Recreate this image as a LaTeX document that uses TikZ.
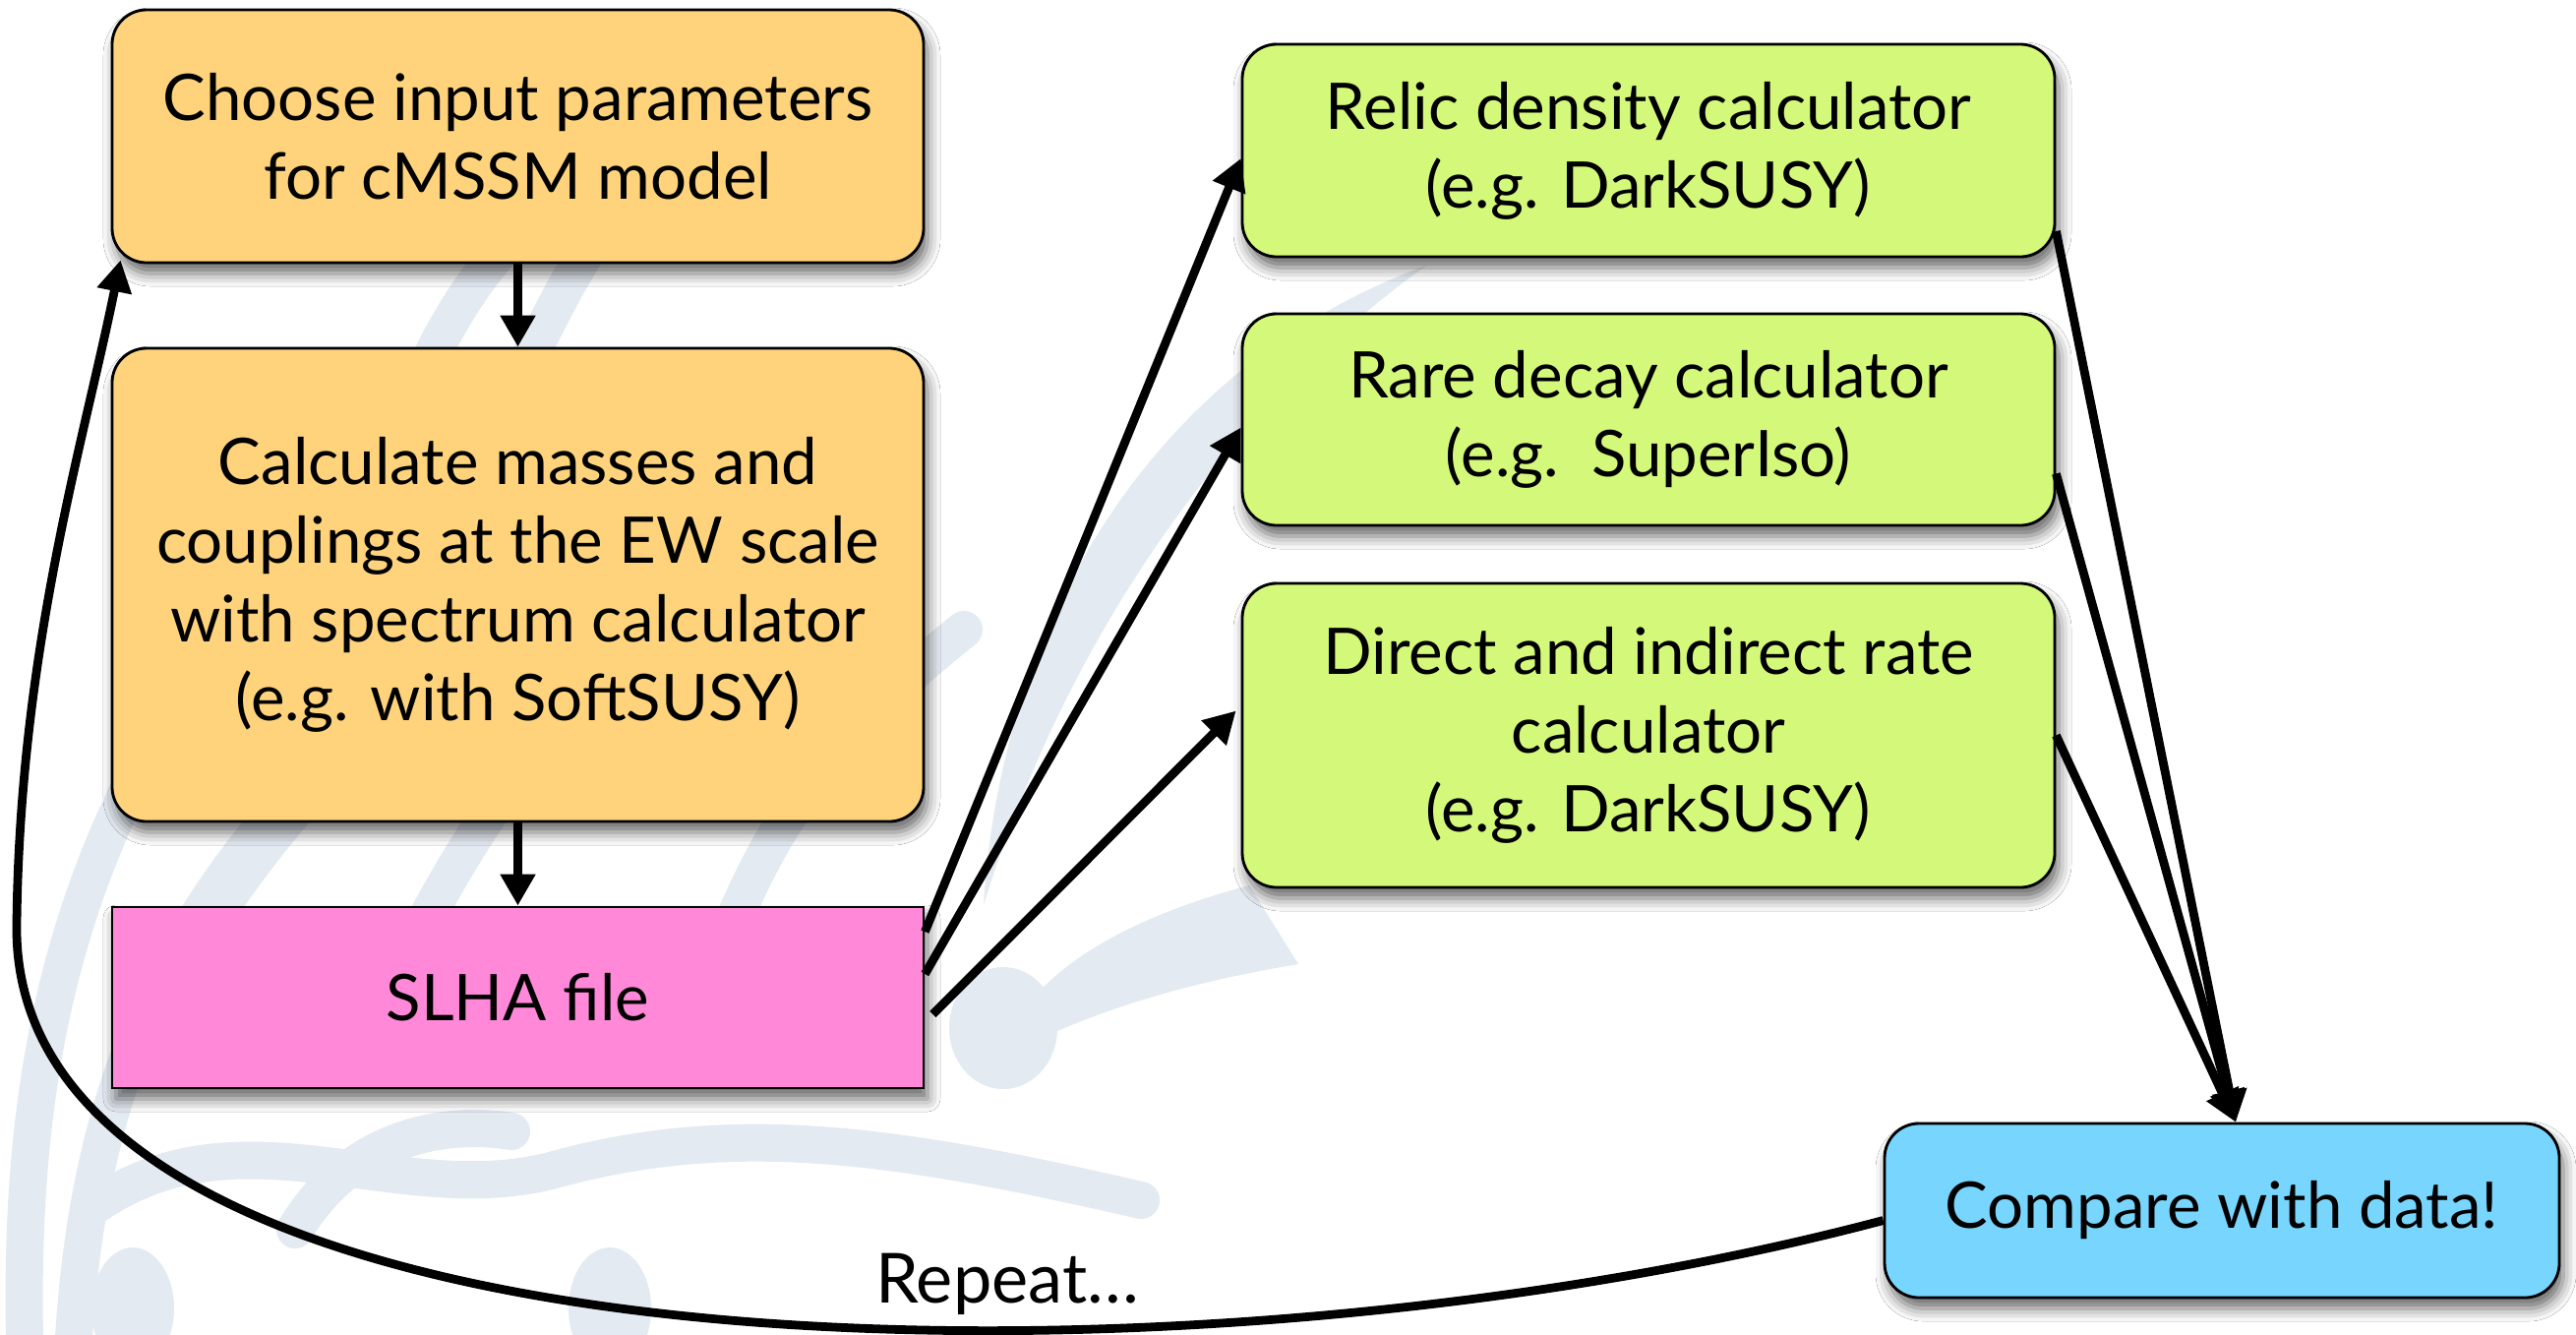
\documentclass[tikz,border=0pt]{standalone}
\usepackage{fontspec}
\setmainfont{Lato}
\usetikzlibrary{arrows.meta,shadows.blur,calc}
\definecolor{boxorange}{RGB}{254,211,124}
\definecolor{boxgreen}{RGB}{212,249,122}
\definecolor{boxpink}{RGB}{255,136,216}
\definecolor{boxblue}{RGB}{120,213,253}
\definecolor{wmark}{RGB}{228,234,242}
\newcommand\cardfont{\fontsize{18.6}{22.8}\selectfont}
\tikzset{
  card/.style={draw=black, line width=0.8pt, align=center, inner sep=0pt,
    font=\cardfont,
    blur shadow={shadow xshift=0.04cm, shadow yshift=-0.11cm,
      shadow blur radius=0.13cm, shadow opacity=60}},
  roundcard/.style={card, rounded corners=0.35cm},
  flow/.style={line width=2.5pt, -{Triangle[length=0.32cm,width=0.34cm]}},
  wm/.style={draw=wmark, line width=0.38cm, line cap=round},
  wmfill/.style={fill=wmark, draw=none}
}
\begin{document}
\begin{tikzpicture}
\useasboundingbox (0,0) rectangle (26.19,-13.56);
\fill[white] (0,0) rectangle (26.19,-13.56);

% light background ornament
\begin{scope}[wm]
  \draw (0.25,-13.6) .. controls (0.2,-11.0) and (0.6,-8.5) .. (2.6,-6.0);
  \draw (0.75,-13.6) .. controls (0.9,-11.2) and (1.6,-9.4) .. (3.4,-7.6);
  \draw (2.0,-9.6) .. controls (3.0,-8.0) and (4.5,-6.5) .. (6.8,-5.0);
  \draw (4.2,-9.6) .. controls (5.0,-8.0) and (6.2,-6.5) .. (7.8,-5.2);
  \draw (7.4,-9.5) .. controls (8.0,-8.0) and (8.8,-7.2) .. (9.8,-6.4);
  \draw (4.4,-3.6) .. controls (4.9,-2.6) and (5.4,-2.2) .. (6.2,-1.5);
  \draw (5.4,-3.6) .. controls (5.7,-3.0) and (6.0,-2.4) .. (6.4,-2.0);
  \draw (0.9,-12.3) .. controls (2.4,-11.2) and (4.0,-12.3) .. (5.6,-11.9)
        .. controls (7.4,-11.4) and (9.0,-11.6) .. (11.6,-12.2);
  \draw (3.0,-12.5) .. controls (3.6,-11.5) and (4.6,-11.4) .. (5.2,-11.5);
\end{scope}
\fill[wmfill] (1.35,-13.3) ellipse (0.42cm and 0.62cm);
\fill[wmfill] (6.2,-13.3) ellipse (0.42cm and 0.62cm);
\fill[wmfill] (10.2,-10.45) ellipse (0.55cm and 0.62cm);
\fill[wmfill] (14.5,-2.7) .. controls (12.0,-3.6) and (10.2,-6.0) .. (10.0,-9.2)
   .. controls (10.8,-6.6) and (12.4,-4.2) .. (14.5,-2.7);
\fill[wmfill] (12.7,-9.0) .. controls (11.2,-9.4) and (10.4,-10.0) .. (10.1,-10.8)
   .. controls (11.0,-10.3) and (12.0,-10.0) .. (13.2,-9.8) -- cycle;

% boxes
\node[roundcard, fill=boxorange, minimum width=8.25cm, minimum height=2.57cm]
  (choose) at (5.265,-1.385) {Choose input parameters\\for cMSSM model};
\node[roundcard, fill=boxorange, minimum width=8.25cm, minimum height=4.81cm]
  (spectrum) at (5.265,-5.945) {Calculate masses and\\couplings at the EW scale\\with spectrum calculator\\(e.g. with SoftSUSY)};
\node[card, fill=boxpink, minimum width=8.25cm, minimum height=1.84cm]
  (slha) at (5.265,-10.14) {SLHA file};
\node[roundcard, fill=boxgreen, minimum width=8.26cm, minimum height=2.16cm]
  (relic) at (16.76,-1.53) {Relic density calculator\\(e.g. DarkSUSY)};
\node[roundcard, fill=boxgreen, minimum width=8.26cm, minimum height=2.15cm]
  (rare) at (16.76,-4.265) {Rare decay calculator\\(e.g.\ \ SuperIso)};
\node[roundcard, fill=boxgreen, minimum width=8.26cm, minimum height=3.09cm]
  (direct) at (16.76,-7.475) {Direct and indirect rate\\calculator\\(e.g. DarkSUSY)};
\node[roundcard, fill=boxblue, minimum width=6.86cm, minimum height=1.77cm]
  (compare) at (22.59,-12.305) {Compare with data!};

% flow of the calculation
\draw[flow] (choose.south) -- (spectrum.north);
\draw[flow] (spectrum.south) -- (slha.north);
\draw[flow] ([yshift=0.67cm]slha.east) -- ([yshift=-0.08cm]relic.west);
\draw[flow] ([yshift=0.24cm]slha.east) -- ([yshift=-0.08cm]rare.west);
\draw[flow] ([xshift=0.08cm,yshift=-0.17cm]slha.east) -- ([xshift=-0.05cm,yshift=0.25cm]direct.west);
\draw[flow] ([yshift=-0.82cm]relic.east) -- ([xshift=0.14cm]compare.north);
\draw[flow] ([yshift=-0.55cm]rare.east) -- ([xshift=0.14cm]compare.north);
\draw[flow] (direct.east) -- ([xshift=0.14cm]compare.north);

% loop back to the start
\coordinate (back) at ([xshift=0.1cm,yshift=0.04cm]choose.south west);
\draw[flow] ([yshift=-0.1cm]compare.west)
   .. controls (12.0,-14.3) and (0.1,-14.1) .. (0.17,-9.4)
   .. controls (0.2,-6.6) and (0.85,-4.5) .. (back);
\node[font=\fontsize{20}{22.8}\selectfont, anchor=base] (repeat) at (10.24,-13.24) {Repeat…};
\end{tikzpicture}
\end{document}
